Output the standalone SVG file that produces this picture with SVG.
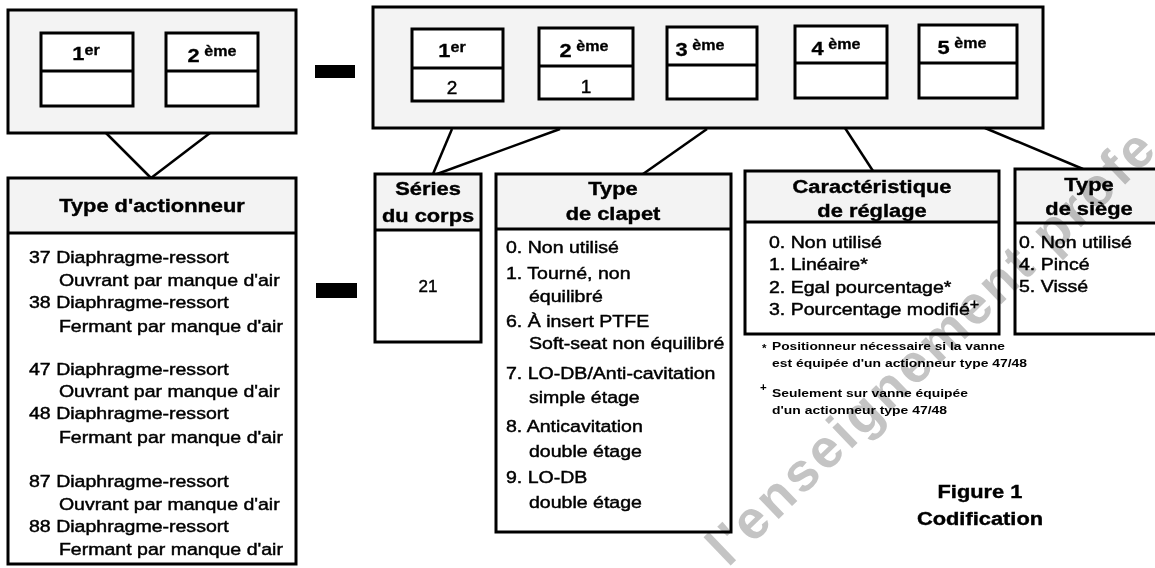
<svg xmlns="http://www.w3.org/2000/svg" width="1155" height="568" viewBox="0 0 1155 568">
<style>
.bg{fill:#fff}
.grey{fill:#f3f3f3}
.white{fill:#fff}
.frame{fill:none;stroke:#000;stroke-width:3}
.cell{fill:#fff;stroke:#000;stroke-width:3}
.div{stroke:#000;stroke-width:3}
.con{stroke:#000;stroke-width:2.5;fill:none}
.bar{fill:#000}
.t{font-family:"Liberation Sans",Arial,Helvetica,sans-serif;font-size:17px;fill:#000;stroke:#000;stroke-width:0.45}
.b{font-weight:bold;font-size:19px;stroke-width:0.4}
.lbl{font-weight:bold;font-size:19px;stroke-width:0.3}
.sup{font-size:14px}
.dig{font-size:19px}
.fn{font-family:"Liberation Sans",Arial,sans-serif;font-size:11.5px;font-weight:bold;fill:#000}
.wm{font-family:"Liberation Sans",Arial,sans-serif;font-weight:bold;font-size:54px;fill:#c4c4c4;letter-spacing:3px;mix-blend-mode:multiply}
</style>
<rect class="bg" x="0" y="0" width="1155" height="568"/>

<g id="code-actionneur">
  <rect class="grey" x="8" y="10" width="288" height="123"/>
  <rect class="frame" x="8" y="10" width="288" height="123"/>
  <rect class="cell" x="41" y="33" width="92" height="73"/>
  <line class="div" x1="41" y1="71" x2="133" y2="71"/>
  <rect class="cell" x="166" y="33" width="92" height="73"/>
  <line class="div" x1="166" y1="71" x2="258" y2="71"/>
  <g transform="translate(86 0) scale(1.15 1)"><text class="t lbl" x="0" y="60" text-anchor="middle">1<tspan class="sup" dy="-5">er</tspan></text></g>
  <g transform="translate(212 0) scale(1.15 1)"><text class="t lbl" x="0" y="62" text-anchor="middle">2<tspan class="sup" dy="-6"> ème</tspan></text></g>
</g>

<g id="separateurs">
  <rect class="bar" x="315" y="65" width="40" height="13"/>
  <rect class="bar" x="316" y="283" width="41" height="15"/>
</g>

<g id="code-vanne">
  <rect class="grey" x="373" y="7" width="670" height="121"/>
  <rect class="frame" x="373" y="7" width="670" height="121"/>
  <rect class="cell" x="412" y="29" width="91" height="72"/>
  <line class="div" x1="412" y1="68" x2="503" y2="68"/>
  <rect class="cell" x="539" y="28" width="94" height="71"/>
  <line class="div" x1="539" y1="66" x2="633" y2="66"/>
  <rect class="cell" x="667" y="27" width="90" height="72"/>
  <line class="div" x1="667" y1="65" x2="757" y2="65"/>
  <rect class="cell" x="795" y="26" width="92" height="72"/>
  <line class="div" x1="795" y1="63" x2="887" y2="63"/>
  <rect class="cell" x="919" y="25" width="98" height="73"/>
  <line class="div" x1="919" y1="63" x2="1017" y2="63"/>
  <g transform="translate(452 0) scale(1.15 1)"><text class="t lbl" x="0" y="57" text-anchor="middle">1<tspan class="sup" dy="-5">er</tspan></text></g>
  <g transform="translate(584 0) scale(1.15 1)"><text class="t lbl" x="0" y="57" text-anchor="middle">2<tspan class="sup" dy="-6"> ème</tspan></text></g>
  <g transform="translate(700 0) scale(1.15 1)"><text class="t lbl" x="0" y="56" text-anchor="middle">3<tspan class="sup" dy="-6"> ème</tspan></text></g>
  <g transform="translate(836 0) scale(1.15 1)"><text class="t lbl" x="0" y="55" text-anchor="middle">4<tspan class="sup" dy="-6"> ème</tspan></text></g>
  <g transform="translate(962 0) scale(1.15 1)"><text class="t lbl" x="0" y="54" text-anchor="middle">5<tspan class="sup" dy="-6"> ème</tspan></text></g>
  <text class="t dig" x="452" y="94" text-anchor="middle">2</text>
  <text class="t dig" x="586" y="93" text-anchor="middle">1</text>
</g>

<g id="connecteurs">
  <line class="con" x1="106" y1="133" x2="151" y2="178"/>
  <line class="con" x1="210" y1="133" x2="151" y2="178"/>
  <line class="con" x1="452" y1="129" x2="433" y2="174"/>
  <line class="con" x1="560" y1="129" x2="437" y2="174"/>
  <line class="con" x1="707" y1="129" x2="643" y2="174"/>
  <line class="con" x1="845" y1="128" x2="873" y2="171"/>
  <line class="con" x1="985" y1="128" x2="1083" y2="169"/>
</g>

<g id="type-actionneur">
  <rect class="white" x="8" y="178" width="288" height="386"/>
  <rect class="grey" x="8" y="178" width="288" height="55"/>
  <rect class="frame" x="8" y="178" width="288" height="386"/>
  <line class="div" x1="8" y1="233" x2="296" y2="233"/>
  <g transform="translate(152 0) scale(1.15 1)"><text class="t b" x="0" y="212" text-anchor="middle">Type d'actionneur</text></g>
  <g transform="translate(29 0) scale(1.15 1)">
    <text class="t" x="0" y="263">37 Diaphragme-ressort</text>
    <text class="t" x="26" y="286">Ouvrant par manque d'air</text>
    <text class="t" x="0" y="308">38 Diaphragme-ressort</text>
    <text class="t" x="26" y="332">Fermant par manque d'air</text>
    <text class="t" x="0" y="375">47 Diaphragme-ressort</text>
    <text class="t" x="26" y="397">Ouvrant par manque d'air</text>
    <text class="t" x="0" y="419">48 Diaphragme-ressort</text>
    <text class="t" x="26" y="443">Fermant par manque d'air</text>
    <text class="t" x="0" y="487">87 Diaphragme-ressort</text>
    <text class="t" x="26" y="510">Ouvrant par manque d'air</text>
    <text class="t" x="0" y="532">88 Diaphragme-ressort</text>
    <text class="t" x="26" y="555">Fermant par manque d'air</text>
  </g>
</g>

<g id="series-corps">
  <rect class="white" x="375" y="174" width="106" height="168"/>
  <rect class="grey" x="375" y="174" width="106" height="56"/>
  <rect class="frame" x="375" y="174" width="106" height="168"/>
  <line class="div" x1="375" y1="230" x2="481" y2="230"/>
  <g transform="translate(428 0) scale(1.15 1)">
    <text class="t b" x="0" y="195" text-anchor="middle">Séries</text>
    <text class="t b" x="0" y="222" text-anchor="middle">du corps</text>
  </g>
  <text class="t" x="428" y="292" text-anchor="middle">21</text>
</g>

<g id="type-clapet">
  <rect class="white" x="496" y="174" width="235" height="358"/>
  <rect class="grey" x="496" y="174" width="235" height="55"/>
  <rect class="frame" x="496" y="174" width="235" height="358"/>
  <line class="div" x1="496" y1="229" x2="731" y2="229"/>
  <g transform="translate(613 0) scale(1.15 1)">
    <text class="t b" x="0" y="195" text-anchor="middle">Type</text>
    <text class="t b" x="0" y="220" text-anchor="middle">de clapet</text>
  </g>
  <g transform="translate(506 0) scale(1.15 1)">
    <text class="t" x="0" y="253">0. Non utilisé</text>
    <text class="t" x="0" y="279">1. Tourné, non</text>
    <text class="t" x="20" y="302">équilibré</text>
    <text class="t" x="0" y="327">6. À insert PTFE</text>
    <text class="t" x="20" y="349">Soft-seat non équilibré</text>
    <text class="t" x="0" y="379">7. LO-DB/Anti-cavitation</text>
    <text class="t" x="20" y="403">simple étage</text>
    <text class="t" x="0" y="432">8. Anticavitation</text>
    <text class="t" x="20" y="457">double étage</text>
    <text class="t" x="0" y="483">9. LO-DB</text>
    <text class="t" x="20" y="508">double étage</text>
  </g>
</g>

<g id="caracteristique-reglage">
  <rect class="white" x="745" y="171" width="254" height="163"/>
  <rect class="grey" x="745" y="171" width="254" height="51"/>
  <rect class="frame" x="745" y="171" width="254" height="163"/>
  <line class="div" x1="745" y1="222" x2="999" y2="222"/>
  <g transform="translate(872 0) scale(1.15 1)">
    <text class="t b" x="0" y="193" text-anchor="middle">Caractéristique</text>
    <text class="t b" x="0" y="217" text-anchor="middle">de réglage</text>
  </g>
  <g transform="translate(769 0) scale(1.15 1)">
    <text class="t" x="0" y="248">0. Non utilisé</text>
    <text class="t" x="0" y="270">1. Linéaire*</text>
    <text class="t" x="0" y="293">2. Egal pourcentage*</text>
    <text class="t" x="0" y="315">3. Pourcentage modifié<tspan class="sup" dy="-6">+</tspan></text>
  </g>
  <text class="fn" x="762" y="352">*</text>
  <text class="fn" x="772" y="350" textLength="233" lengthAdjust="spacingAndGlyphs">Positionneur nécessaire si la vanne</text>
  <text class="fn" x="772" y="367" textLength="255" lengthAdjust="spacingAndGlyphs">est équipée d'un actionneur type 47/48</text>
  <text class="fn" x="760" y="391">+</text>
  <text class="fn" x="772" y="397" textLength="196" lengthAdjust="spacingAndGlyphs">Seulement sur vanne équipée</text>
  <text class="fn" x="772" y="414" textLength="175" lengthAdjust="spacingAndGlyphs">d'un actionneur type 47/48</text>
</g>

<g id="type-siege">
  <rect class="white" x="1015" y="169" width="155" height="165"/>
  <rect class="grey" x="1015" y="169" width="155" height="54"/>
  <rect class="frame" x="1015" y="169" width="155" height="165"/>
  <line class="div" x1="1015" y1="223" x2="1170" y2="223"/>
  <g transform="translate(1089 0) scale(1.15 1)">
    <text class="t b" x="0" y="191" text-anchor="middle">Type</text>
    <text class="t b" x="0" y="215" text-anchor="middle">de siège</text>
  </g>
  <g transform="translate(1019 0) scale(1.15 1)">
    <text class="t" x="0" y="248">0. Non utilisé</text>
    <text class="t" x="0" y="270">4. Pincé</text>
    <text class="t" x="0" y="292">5. Vissé</text>
  </g>
</g>

<g id="titre">
  <g transform="translate(980 0) scale(1.15 1)">
    <text class="t b" x="0" y="498" text-anchor="middle">Figure 1</text>
    <text class="t b" x="0" y="525" text-anchor="middle">Codification</text>
  </g>
</g>

<text class="wm" transform="translate(728 568) rotate(-44)">l'enseignement profe</text>
</svg>
